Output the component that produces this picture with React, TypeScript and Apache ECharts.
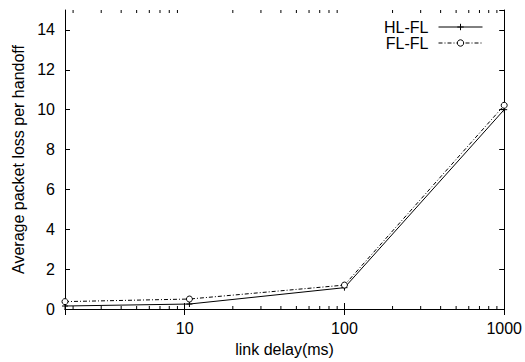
import React, { useEffect, useRef } from "react";
import * as echarts from "echarts";

const delays = [1.78, 10.7, 100, 1000];
const hlFl = [0.15, 0.25, 1.07, 10.0];
const flFl = [0.37, 0.5, 1.2, 10.22];
const seriesNames = ["HL-FL", "FL-FL"];
const xMinorTicks = [2, 3, 4, 5, 6, 7, 8, 9, 20, 30, 40, 50, 60, 70, 80, 90, 200, 300, 400, 500, 600, 700, 800, 900];
const X_MIN = 1.78;
const X_MAX = 1000;
const Y_MIN = 0;
const Y_MAX = 15;
const Y_STEP = 2;

const FONT = "Liberation Sans";

export default function App() {
  const ref = useRef<HTMLDivElement>(null);
  useEffect(() => {
    if (!ref.current) return;
    const chart = echarts.init(ref.current, null, { renderer: "svg" });
    const axisLine = { show: true, lineStyle: { color: "#000", width: 1 } };
    const isPow10 = (v: number) => Math.abs(Math.log10(v) - Math.round(Math.log10(v))) < 1e-6;
    const option: any = {
      animation: false,
      backgroundColor: "#fff",
      textStyle: { fontFamily: FONT },
      grid: { left: 65, right: 20, top: 10, bottom: 49.5, containLabel: false },
      legend: {
        data: seriesNames,
        orient: "vertical",
        right: 37,
        top: 14,
        align: "right",
        itemWidth: 44,
        itemHeight: 8,
        itemGap: 0,
        textStyle: { fontFamily: FONT, fontSize: 16, color: "#000", padding: [0, 5, 0, 0], lineHeight: 13 },
        lineStyle: { width: 1 },
        itemStyle: { borderWidth: 1 },
        inactiveColor: "#000",
        selectedMode: false,
      },
      xAxis: [
        {
          type: "log",
          logBase: 10,
          min: X_MIN,
          max: X_MAX,
          position: "bottom",
          axisLine,
          axisTick: { show: true, inside: true, length: 6, lineStyle: { color: "#000" } },
          axisLabel: {
            margin: 11,
            fontSize: 16,
            color: "#000",
            fontFamily: FONT,
            formatter: (v: number) => (isPow10(v) ? String(Math.round(v)) : ""),
          },
          splitLine: { show: false },
          name: "link delay(ms)",
          nameLocation: "middle",
          nameGap: 32,
          nameTextStyle: { fontSize: 16, color: "#000", fontFamily: FONT },
        },
        {
          type: "log",
          logBase: 10,
          min: X_MIN,
          max: X_MAX,
          position: "top",
          axisLine,
          axisTick: { show: true, inside: true, length: 6, lineStyle: { color: "#000" } },
          axisLabel: { show: false },
          splitLine: { show: false },
        },
      ],
      yAxis: [
        {
          type: "value",
          min: Y_MIN,
          max: Y_MAX,
          interval: Y_STEP,
          position: "left",
          axisLine,
          axisTick: { show: true, inside: true, length: 5, lineStyle: { color: "#000" } },
          axisLabel: {
            margin: 10,
            fontSize: 16,
            color: "#000",
            fontFamily: FONT,
            showMaxLabel: false,
            formatter: (v: number) => (v % Y_STEP === 0 ? String(v) : ""),
          },
          splitLine: { show: false },
          name: "Average packet loss per handoff",
          nameLocation: "middle",
          nameRotate: 90,
          nameGap: 32,
          nameTextStyle: { fontSize: 16, color: "#000", fontFamily: FONT },
        },
        {
          type: "value",
          min: Y_MIN,
          max: Y_MAX,
          interval: Y_STEP,
          position: "right",
          axisLine,
          axisTick: { show: true, inside: true, length: 5, lineStyle: { color: "#000" } },
          axisLabel: { show: false },
          splitLine: { show: false },
        },
      ],
      series: [
        {
          name: seriesNames[0],
          type: "line",
          data: delays.map((d, i) => [d, hlFl[i]]),
          symbol: "path://M0,5L10,5M5,0L5,10",
          symbolSize: 6,
          showAllSymbol: true,
          clip: false,
          lineStyle: { color: "#000", width: 1, type: "solid" },
          itemStyle: { color: "#000", borderColor: "#000", borderWidth: 1 },
          z: 3,
        },
        {
          name: seriesNames[1],
          type: "line",
          data: delays.map((d, i) => [d, flFl[i]]),
          symbol: "circle",
          symbolSize: 6,
          showAllSymbol: true,
          clip: false,
          lineStyle: { color: "#000", width: 1, type: [4, 2, 1, 2] },
          itemStyle: { color: "#fff", borderColor: "#000", borderWidth: 1 },
          z: 4,
        },
        {
          type: "custom",
          xAxisIndex: 0,
          yAxisIndex: 0,
          silent: true,
          clip: false,
          data: xMinorTicks.map((v) => [v, 0]),
          encode: { x: 0, y: 1 },
          renderItem: (params: any, api: any) => {
            const v = api.value(0);
            const b = api.coord([v, Y_MIN]);
            const t = api.coord([v, Y_MAX]);
            return {
              type: "group",
              children: [
                { type: "line", shape: { x1: b[0], y1: b[1], x2: b[0], y2: b[1] - 3 }, style: { stroke: "#000", lineWidth: 1 } },
                { type: "line", shape: { x1: t[0], y1: t[1], x2: t[0], y2: t[1] + 3 }, style: { stroke: "#000", lineWidth: 1 } },
              ],
            };
          },
          z: 5,
        },
      ],
    };
    chart.setOption(option);
    return () => chart.dispose();
  }, []);
  return <div ref={ref} style={{ width: 525, height: 362, position: "absolute", left: 0, top: 0 }} />;
}
